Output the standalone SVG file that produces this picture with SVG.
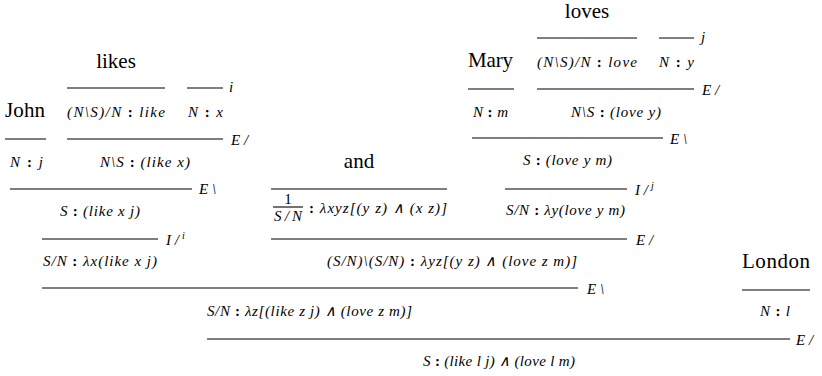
<svg xmlns="http://www.w3.org/2000/svg" width="822" height="376" viewBox="0 0 822 376">
<rect width="822" height="376" fill="#fff"/>
<g id="connectors" stroke="#000" stroke-width="1.1" fill="none">
  <line x1="67" y1="88" x2="165" y2="88"/>
  <line x1="187" y1="88" x2="223" y2="88"/>
  <line x1="5" y1="139" x2="46" y2="139"/>
  <line x1="67" y1="139" x2="223" y2="139"/>
  <line x1="10" y1="189" x2="192" y2="189"/>
  <line x1="42" y1="239" x2="158" y2="239"/>
  <line x1="42" y1="288" x2="578" y2="288"/>
  <line x1="207" y1="339" x2="790" y2="339"/>
  <line x1="271" y1="189" x2="447" y2="189"/>
  <line x1="271" y1="239" x2="627" y2="239"/>
  <line x1="537" y1="38" x2="637" y2="38"/>
  <line x1="659" y1="38" x2="694" y2="38"/>
  <line x1="468" y1="89" x2="514" y2="89"/>
  <line x1="537" y1="89" x2="694" y2="89"/>
  <line x1="472" y1="138" x2="663" y2="138"/>
  <line x1="505" y1="189" x2="627" y2="189"/>
  <line x1="742" y1="290" x2="810" y2="290"/>
</g>
<g id="rule-labels" fill="#000">
  <text font-family="Times New Roman, Liberation Serif, serif" font-style="italic" font-size="15" x="229" y="92">i</text>
  <text font-family="Times New Roman, Liberation Serif, serif" font-style="italic" font-size="15" x="231" y="145">E /</text>
  <text font-family="Times New Roman, Liberation Serif, serif" font-style="italic" font-size="15" x="199" y="194">E \</text>
  <text font-family="Times New Roman, Liberation Serif, serif" font-style="italic" font-size="15" x="166" y="245">I /</text>
  <text font-family="Times New Roman, Liberation Serif, serif" font-style="italic" font-size="10" x="182" y="239">i</text>
  <text font-family="Times New Roman, Liberation Serif, serif" font-style="italic" font-size="15" x="587" y="294">E \</text>
  <text font-family="Times New Roman, Liberation Serif, serif" font-style="italic" font-size="15" x="796" y="345">E /</text>
  <text font-family="Times New Roman, Liberation Serif, serif" font-style="italic" font-size="15" x="636" y="245">E /</text>
  <text font-family="Times New Roman, Liberation Serif, serif" font-style="italic" font-size="15" x="701" y="42">j</text>
  <text font-family="Times New Roman, Liberation Serif, serif" font-style="italic" font-size="15" x="702" y="95">E /</text>
  <text font-family="Times New Roman, Liberation Serif, serif" font-style="italic" font-size="15" x="670" y="144">E \</text>
  <text font-family="Times New Roman, Liberation Serif, serif" font-style="italic" font-size="15" x="635" y="195">I /</text>
  <text font-family="Times New Roman, Liberation Serif, serif" font-style="italic" font-size="10" x="651" y="189">j</text>
</g>
<g id="john"><text font-family="Times New Roman, Liberation Serif, serif" font-size="21" x="5" y="117" textLength="40">John</text></g>
<g id="likes"><text font-family="Times New Roman, Liberation Serif, serif" font-size="21" x="116" y="68" text-anchor="middle">likes</text></g>
<g id="like-type"><text font-family="Times New Roman, Liberation Serif, serif" font-style="italic" font-size="15" x="67" y="117" textLength="98">(N\S)/N <tspan font-style="normal" font-weight="bold">:</tspan> like</text></g>
<g id="hyp-x"><text font-family="Times New Roman, Liberation Serif, serif" font-style="italic" font-size="15" x="188" y="117" textLength="35">N <tspan font-style="normal" font-weight="bold">:</tspan> x</text></g>
<g id="john-type"><text font-family="Times New Roman, Liberation Serif, serif" font-style="italic" font-size="15" x="10" y="167" textLength="33">N <tspan font-style="normal" font-weight="bold">:</tspan> j</text></g>
<g id="like-x"><text font-family="Times New Roman, Liberation Serif, serif" font-style="italic" font-size="15" x="100" y="167" textLength="90">N\S <tspan font-style="normal" font-weight="bold">:</tspan> (like x)</text></g>
<g id="like-x-j"><text font-family="Times New Roman, Liberation Serif, serif" font-style="italic" font-size="15" x="60" y="216" textLength="80">S <tspan font-style="normal" font-weight="bold">:</tspan> (like x j)</text></g>
<g id="lam-like"><text font-family="Times New Roman, Liberation Serif, serif" font-style="italic" font-size="15" x="43" y="266" textLength="114">S/N <tspan font-style="normal" font-weight="bold">:</tspan> &#955;x(like x j)</text></g>
<g id="and"><text font-family="Times New Roman, Liberation Serif, serif" font-size="21" x="359" y="168" text-anchor="middle">and</text></g>
<g id="and-type">
  <text font-family="Times New Roman, Liberation Serif, serif" font-size="15" x="288" y="204" text-anchor="middle">1</text>
  <line x1="273" y1="207" x2="303" y2="207" stroke="#000" stroke-width="1.1"/>
  <text font-family="Times New Roman, Liberation Serif, serif" font-style="italic" font-size="15" x="274" y="221" textLength="28">S/N</text>
  <text font-family="Times New Roman, Liberation Serif, serif" font-style="italic" font-size="15" x="309" y="213" textLength="138"><tspan font-style="normal" font-weight="bold">:</tspan> &#955;xyz[(y z) &#8743; (x z)]</text>
</g>
<g id="mary"><text font-family="Times New Roman, Liberation Serif, serif" font-size="21" x="468" y="67" textLength="45">Mary</text></g>
<g id="loves"><text font-family="Times New Roman, Liberation Serif, serif" font-size="21" x="587" y="18" text-anchor="middle">loves</text></g>
<g id="love-type"><text font-family="Times New Roman, Liberation Serif, serif" font-style="italic" font-size="15" x="537" y="67" textLength="100">(N\S)/N <tspan font-style="normal" font-weight="bold">:</tspan> love</text></g>
<g id="hyp-y"><text font-family="Times New Roman, Liberation Serif, serif" font-style="italic" font-size="15" x="659" y="67" textLength="35">N <tspan font-style="normal" font-weight="bold">:</tspan> y</text></g>
<g id="mary-type"><text font-family="Times New Roman, Liberation Serif, serif" font-style="italic" font-size="15" x="473" y="117" textLength="35">N <tspan font-style="normal" font-weight="bold">:</tspan> m</text></g>
<g id="love-y"><text font-family="Times New Roman, Liberation Serif, serif" font-style="italic" font-size="15" x="571" y="117" textLength="90">N\S <tspan font-style="normal" font-weight="bold">:</tspan> (love y)</text></g>
<g id="love-y-m"><text font-family="Times New Roman, Liberation Serif, serif" font-style="italic" font-size="15" x="523" y="165" textLength="89">S <tspan font-style="normal" font-weight="bold">:</tspan> (love y m)</text></g>
<g id="lam-love"><text font-family="Times New Roman, Liberation Serif, serif" font-style="italic" font-size="15" x="506" y="215" textLength="119">S/N <tspan font-style="normal" font-weight="bold">:</tspan> &#955;y(love y m)</text></g>
<g id="coord"><text font-family="Times New Roman, Liberation Serif, serif" font-style="italic" font-size="15" x="327" y="266" textLength="250">(S/N)\(S/N) <tspan font-style="normal" font-weight="bold">:</tspan> &#955;yz[(y z) &#8743; (love z m)]</text></g>
<g id="conj"><text font-family="Times New Roman, Liberation Serif, serif" font-style="italic" font-size="15" x="207" y="316" textLength="205">S/N <tspan font-style="normal" font-weight="bold">:</tspan> &#955;z[(like z j) &#8743; (love z m)]</text></g>
<g id="london"><text font-family="Times New Roman, Liberation Serif, serif" font-size="21" x="742" y="268" textLength="68">London</text></g>
<g id="london-type"><text font-family="Times New Roman, Liberation Serif, serif" font-style="italic" font-size="15" x="760" y="316" textLength="30">N <tspan font-style="normal" font-weight="bold">:</tspan> l</text></g>
<g id="result"><text font-family="Times New Roman, Liberation Serif, serif" font-style="italic" font-size="15" x="423" y="366" textLength="152">S <tspan font-style="normal" font-weight="bold">:</tspan> (like l j) &#8743; (love l m)</text></g>
</svg>
